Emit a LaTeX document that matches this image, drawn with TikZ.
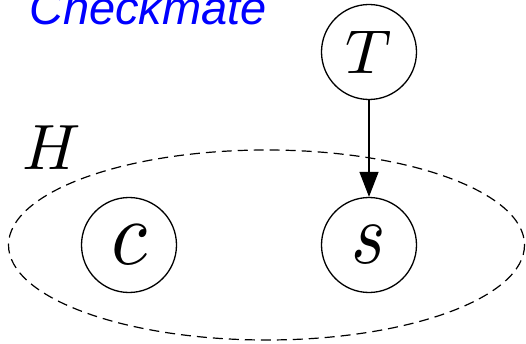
\documentclass[tikz,border=0pt]{standalone}
\usepackage{graphicx}
\usepackage{fontspec}
\newfontfamily\labelfont{Liberation Sans}
\usetikzlibrary{arrows.meta}
\newcommand{\bigmath}[3]{\scalebox{#1}[#2]{$#3$}}
\begin{document}
\begin{tikzpicture}[x=1pt,y=-1pt,
  var/.style={circle,draw,line width=1.3pt,minimum size=95pt,inner sep=0pt},
  group/.style={draw,dashed,dash pattern=on 10pt off 6pt,line width=1.2pt},
  edge/.style={line width=1.3pt,-{Triangle[length=25pt,width=19pt]}}]
\useasboundingbox (0,0) rectangle (526,344);
\node[anchor=base west,text=blue,inner sep=0pt,font=\labelfont\itshape\fontsize{47}{47}\selectfont] (title) at (29,25) {Checkmate};
\draw[group] (266.5,245) ellipse [x radius=258,y radius=95];
\node[anchor=base west,inner sep=0pt] (H) at (22,170) {\bigmath{6.4}{6.4}{H}};
\node[var] (T) at (369,52) {\bigmath{6.4}{6.2}{T}};
\node[var] (c) at (129,245) {\bigmath{8.3}{9.2}{c}};
\node[var] (s) at (369,245) {\bigmath{7.3}{8.8}{s}};
\draw[edge] (T) -- (s);
\end{tikzpicture}
\end{document}
